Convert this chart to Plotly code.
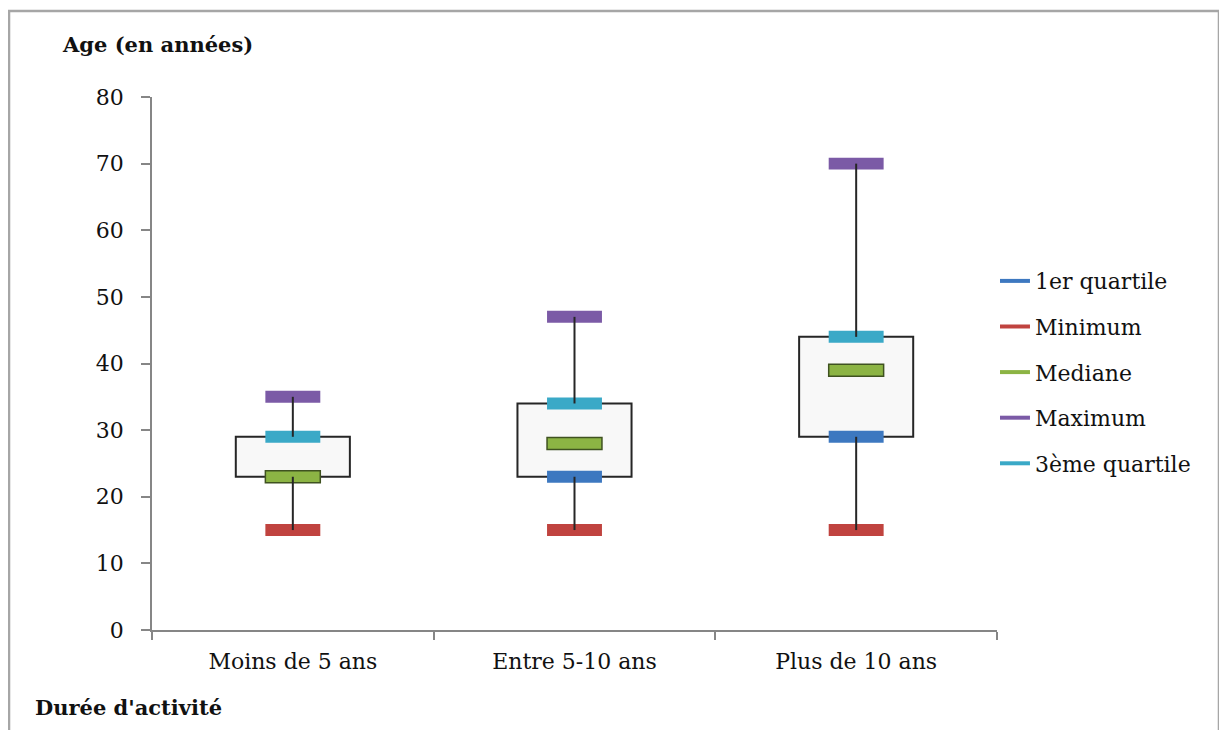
import plotly.graph_objects as go

categories = ["Moins de 5 ans", "Entre 5-10 ans", "Plus de 10 ans"]
minimum = [15, 15, 15]
q1 = [23, 23, 29]
mediane = [23, 28, 39]
q3 = [29, 34, 44]
maximum = [35, 47, 70]

xpos = list(range(len(categories)))
FONT = "DejaVu Serif, Liberation Serif, serif"
MARK_H = 1.8

fig = go.Figure()

# whiskers: min -> Q1 and Q3 -> max
wx, wy = [], []
for i in xpos:
    wx += [i, i, None, i, i, None]
    wy += [minimum[i], q1[i], None, q3[i], maximum[i], None]
fig.add_trace(go.Scatter(x=wx, y=wy, mode="lines", line=dict(color="#262626", width=2),
                         showlegend=False, hoverinfo="skip"))

# box Q1 -> Q3
fig.add_trace(go.Bar(x=xpos, base=q1, y=[b - a for a, b in zip(q1, q3)], width=0.405,
                     marker=dict(color="#f8f8f8", line=dict(color="#262626", width=2)),
                     showlegend=False, hoverinfo="skip"))

series = [
    ("1er quartile", q1, "#3d78c0", "#3d78c0"),
    ("Minimum", minimum, "#c0433f", "#c0433f"),
    ("Mediane", mediane, "#8cb444", "#3f5220"),
    ("Maximum", maximum, "#7b5aa6", "#7b5aa6"),
    ("3ème quartile", q3, "#3aa9c7", "#3aa9c7"),
]

for name, vals, col, edge in series:
    fig.add_trace(go.Bar(x=xpos, base=[v - MARK_H / 2 for v in vals], y=[MARK_H] * len(vals),
                         width=0.195,
                         marker=dict(color=col, line=dict(color=edge, width=1.5 if name == "Mediane" else 0)),
                         showlegend=False, hovertemplate=name + ": %{customdata}<extra></extra>",
                         customdata=vals))
    fig.add_trace(go.Scatter(x=[None], y=[None], mode="lines", name=name,
                             line=dict(color=col, width=4), legendgroup=name))

fig.update_layout(
    width=1227, height=730,
    barmode="overlay",
    paper_bgcolor="white", plot_bgcolor="white",
    margin=dict(l=144, r=238, t=89, b=108),
    font=dict(family=FONT, size=22, color="#111111"),
    xaxis=dict(range=[-0.5, 2.5], tickvals=xpos, ticktext=categories, ticks="", ticklabelstandoff=11,
               showline=True, linecolor="#868686", linewidth=1.5, showgrid=False, zeroline=False,
               minor=dict(tickmode="array", tickvals=[-0.5, 0.5, 1.5, 2.5], ticks="outside",
                          ticklen=8, tickcolor="#868686", tickwidth=1.5, showgrid=False)),
    yaxis=dict(range=[0, 80], dtick=10, ticks="outside", ticklen=9, tickcolor="#868686", tickwidth=1.5,
               ticklabelstandoff=13,
               showline=True, linecolor="#868686", linewidth=1.5, showgrid=False, zeroline=False),
    legend=dict(x=0.9976, y=0.694, xanchor="left", yanchor="top", tracegroupgap=14,
                font=dict(family=FONT, size=22), itemwidth=30),
    annotations=[
        dict(text="<b>Age (en années)</b>", xref="paper", yref="paper", x=-0.109, y=1.0976,
             xanchor="left", yanchor="middle", showarrow=False, font=dict(family=FONT, size=21)),
        dict(text="<b>Durée d'activité</b>", xref="paper", yref="paper", x=-0.141, y=-0.1445,
             xanchor="left", yanchor="middle", showarrow=False, font=dict(family=FONT, size=21)),
    ],
    shapes=[
        dict(type="path", xref="paper", yref="paper",
             path="M -0.1692,-0.3 L -0.1692,1.1614 L 1.2627,1.1614 L 1.2627,-0.3",
             line=dict(color="#a6a6a6", width=2.5)),
    ],
)

fig.write_html("out.html")
